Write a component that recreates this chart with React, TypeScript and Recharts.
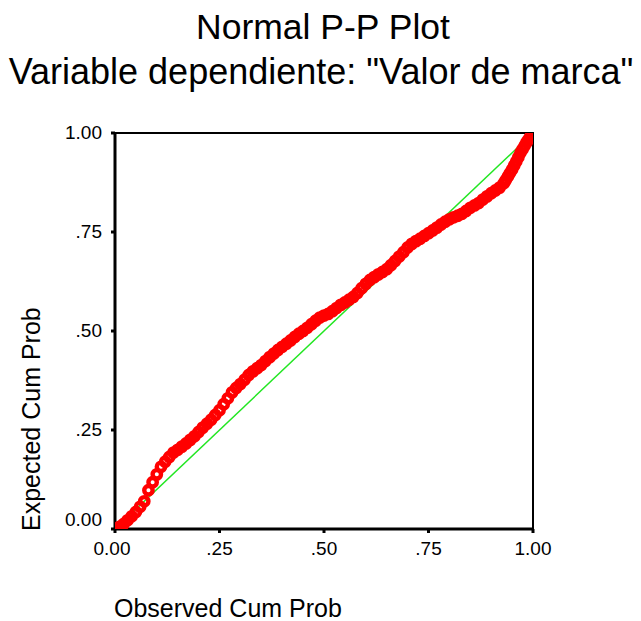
import React from "react";
import {
  ScatterChart,
  Scatter,
  XAxis,
  YAxis,
  ReferenceArea,
} from "recharts";

const observed = [
  0.0, 0.01, 0.02, 0.03, 0.04, 0.05, 0.06, 0.07, 0.08, 0.09,
  0.1, 0.11, 0.12, 0.13, 0.14, 0.15, 0.16, 0.17, 0.18, 0.19,
  0.2, 0.21, 0.22, 0.23, 0.24, 0.25, 0.26, 0.27, 0.28, 0.29,
  0.3, 0.31, 0.32, 0.33, 0.34, 0.35, 0.36, 0.37, 0.38, 0.39,
  0.4, 0.41, 0.42, 0.43, 0.44, 0.45, 0.46, 0.47, 0.48, 0.49,
  0.5, 0.51, 0.52, 0.53, 0.54, 0.55, 0.56, 0.57, 0.58, 0.59,
  0.6, 0.61, 0.62, 0.63, 0.64, 0.65, 0.66, 0.67, 0.68, 0.69,
  0.7, 0.71, 0.72, 0.73, 0.74, 0.75, 0.76, 0.77, 0.78, 0.79,
  0.8, 0.81, 0.82, 0.83, 0.84, 0.85, 0.86, 0.87, 0.88, 0.89,
  0.9, 0.91, 0.92, 0.93, 0.935, 0.94, 0.945, 0.95, 0.955, 0.96,
  0.965, 0.97, 0.975, 0.98, 0.985, 0.99, 0.995, 1.0,
];

const expected = [
  0.0, 0.005, 0.012, 0.022, 0.032, 0.043, 0.056, 0.07, 0.098, 0.118,
  0.138, 0.157, 0.17, 0.182, 0.193, 0.2, 0.208, 0.216, 0.225, 0.234,
  0.245, 0.256, 0.266, 0.276, 0.288, 0.3, 0.315, 0.33, 0.345, 0.356,
  0.366, 0.377, 0.389, 0.398, 0.406, 0.414, 0.424, 0.434, 0.443, 0.452,
  0.46, 0.468, 0.476, 0.485, 0.493, 0.5, 0.508, 0.517, 0.526, 0.534,
  0.539, 0.543, 0.55, 0.558, 0.566, 0.572, 0.579, 0.586, 0.596, 0.608,
  0.619, 0.629, 0.636, 0.643, 0.649, 0.656, 0.666, 0.677, 0.688, 0.699,
  0.711, 0.72, 0.727, 0.733, 0.74, 0.747, 0.754, 0.761, 0.769, 0.776,
  0.782, 0.787, 0.791, 0.796, 0.803, 0.811, 0.817, 0.823, 0.832, 0.84,
  0.848, 0.855, 0.862, 0.873, 0.881, 0.89, 0.899, 0.908, 0.918, 0.928,
  0.939, 0.95, 0.959, 0.968, 0.977, 0.985, 0.993, 1.0,
];

const diagonalX = [0, 1];
const diagonalY = [0, 1];

const ticks = [0, 0.25, 0.5, 0.75, 1];
const tickLabels = ["0.00", ".25", ".50", ".75", "1.00"];

const FONT = '"Liberation Sans", Arial, sans-serif';

const points = observed.map((x, i) => ({ x, y: expected[i] }));
const diagonal = diagonalX.map((x, i) => ({ x, y: diagonalY[i] }));

function labelFor(v: number): string {
  const i = ticks.indexOf(v);
  return i >= 0 ? tickLabels[i] : String(v);
}

function YTick(props: any) {
  const { y, payload } = props;
  const v = payload.value as number;
  return (
    <text
      x={102}
      y={y + (v === 0 ? -3 : 6)}
      textAnchor="end"
      fontSize={19}
      fontFamily={FONT}
      fill="#000"
    >
      {labelFor(v)}
    </text>
  );
}

function XTick(props: any) {
  const { x, payload } = props;
  const v = payload.value as number;
  return (
    <text
      x={x + (v === 0 ? -3 : 0)}
      y={555}
      textAnchor="middle"
      fontSize={19}
      fontFamily={FONT}
      fill="#000"
    >
      {labelFor(v)}
    </text>
  );
}

// hollow marker with a heavy outline so the points merge into a band
function RedMarker(props: any) {
  return (
    <circle
      cx={props.cx}
      cy={props.cy}
      r={4.2}
      fill="none"
      stroke="#ff0000"
      strokeWidth={4.4}
    />
  );
}

export default function App() {
  return (
    <div
      style={{
        position: "absolute",
        left: 0,
        top: 0,
        width: 641,
        height: 621,
        background: "#fff",
      }}
    >
      <ScatterChart
        width={641}
        height={621}
        margin={{ top: 133, right: 108, bottom: 91, left: 114 }}
      >
        <XAxis
          type="number"
          dataKey="x"
          domain={[0, 1]}
          ticks={ticks}
          height={1}
          tickSize={4}
          axisLine={{ stroke: "#000", strokeWidth: 3 }}
          tickLine={{ stroke: "#000", strokeWidth: 3 }}
          tick={<XTick />}
          interval={0}
          allowDataOverflow
        />
        <YAxis
          type="number"
          dataKey="y"
          domain={[0, 1]}
          ticks={ticks}
          width={1}
          tickSize={4}
          axisLine={{ stroke: "#000", strokeWidth: 3 }}
          tickLine={{ stroke: "#000", strokeWidth: 3 }}
          tick={<YTick />}
          interval={0}
          allowDataOverflow
        />
        <ReferenceArea
          x1={0}
          x2={1}
          y1={0}
          y2={1}
          fill="none"
          stroke="#000"
          strokeWidth={2}
          ifOverflow="visible"
        />
        <Scatter
          data={diagonal}
          line={{ stroke: "#22e622", strokeWidth: 1.5 }}
          shape={() => <g />}
          isAnimationActive={false}
        />
        <Scatter
          data={points}
          shape={<RedMarker />}
          isAnimationActive={false}
        />
      </ScatterChart>
      <svg
        width={641}
        height={621}
        style={{ position: "absolute", left: 0, top: 0, pointerEvents: "none" }}
      >
        <text x={323} y={39} textAnchor="middle" fontSize={35.5} fontFamily={FONT} fill="#000">
          Normal P-P Plot
        </text>
        <text x={321} y={84} textAnchor="middle" fontSize={36} fontFamily={FONT} fill="#000">
          Variable dependiente: "Valor de marca"
        </text>
        <text x={114} y={617} fontSize={25} fontFamily={FONT} fill="#000">
          Observed Cum Prob
        </text>
        <text
          x={40}
          y={531}
          transform="rotate(-90 40 531)"
          fontSize={25}
          fontFamily={FONT}
          fill="#000"
        >
          Expected Cum Prob
        </text>
      </svg>
    </div>
  );
}
